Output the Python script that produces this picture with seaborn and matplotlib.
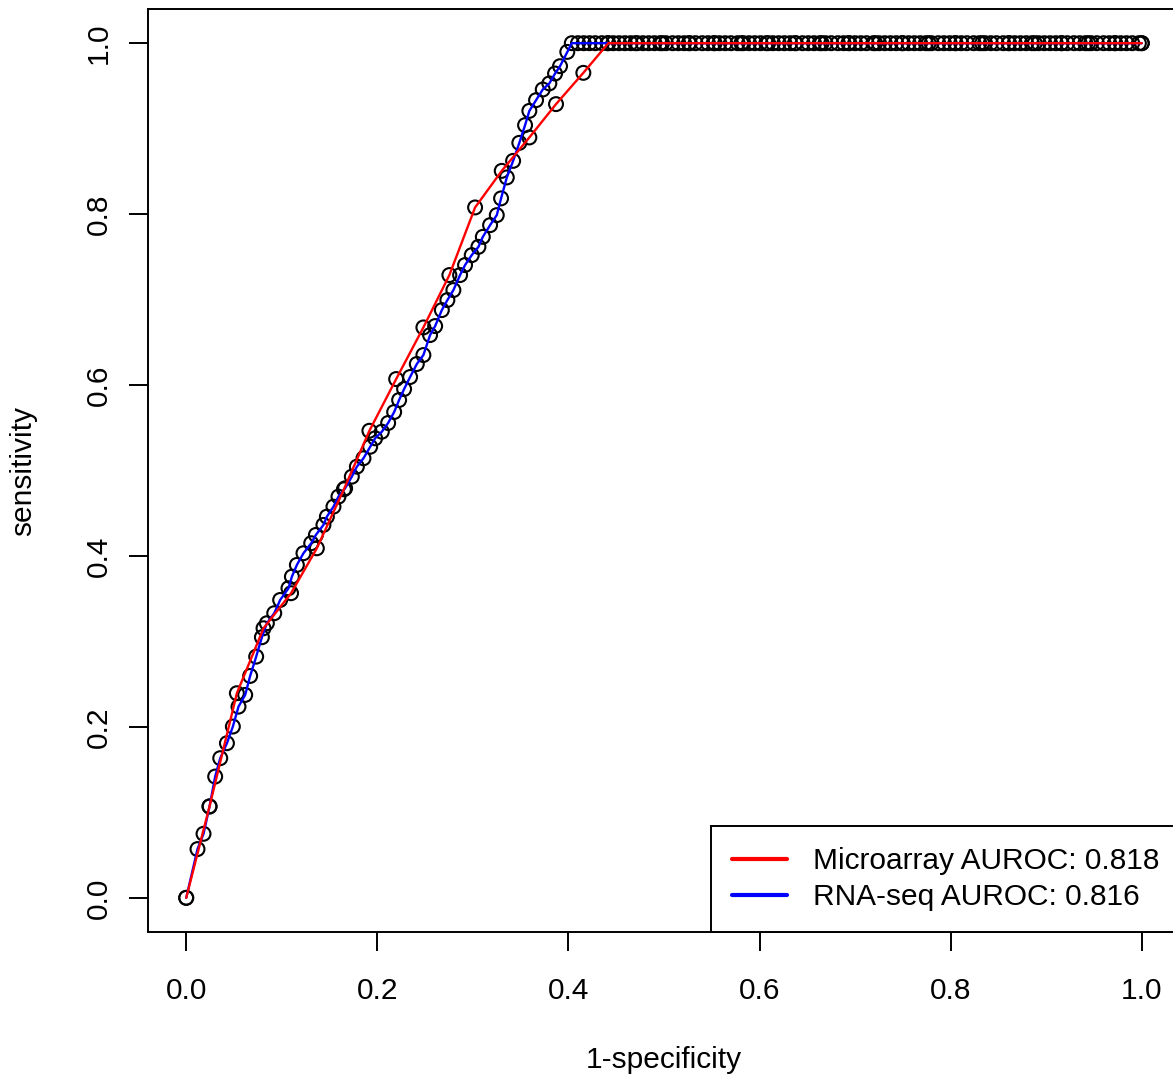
import matplotlib
matplotlib.use("Agg")
import matplotlib.pyplot as plt
import seaborn as sns
import pandas as pd
from matplotlib.lines import Line2D

# ---------------- data ----------------
micro_fpr = [0.0, 0.0244, 0.053, 0.0809, 0.1097, 0.1367, 0.165, 0.1917, 0.2197,
             0.2482, 0.2754, 0.3023, 0.3302, 0.3591, 0.387, 0.4156, 0.4417,
             0.470, 0.498, 0.526, 0.553, 0.581, 0.609, 0.637, 0.665, 0.693,
             0.721, 0.749, 0.777, 0.805, 0.833, 0.861, 0.888, 0.916, 0.944,
             0.972, 1.0]
micro_tpr = [0.0, 0.107, 0.2394, 0.3154, 0.3564, 0.409, 0.478, 0.5465, 0.607,
             0.6674, 0.7287, 0.8078, 0.8506, 0.8897, 0.9287, 0.9653, 1.0,
             1.0, 1.0, 1.0, 1.0, 1.0, 1.0, 1.0, 1.0, 1.0,
             1.0, 1.0, 1.0, 1.0, 1.0, 1.0, 1.0, 1.0, 1.0,
             1.0, 1.0]

rnaseq_fpr = [0.0, 0.0118, 0.0181, 0.0244, 0.0303, 0.0356, 0.0426, 0.0488, 0.0547,
              0.0617, 0.0669, 0.0732, 0.0792, 0.0844, 0.0921, 0.0983, 0.107,
              0.1106, 0.1158, 0.1227, 0.1308, 0.1357, 0.1436, 0.1472, 0.1541,
              0.1593, 0.1663, 0.1733, 0.1786, 0.1855, 0.1925, 0.1977, 0.2047,
              0.2113, 0.2176, 0.2228, 0.228, 0.2343, 0.2413, 0.2482, 0.2552,
              0.2605, 0.2675, 0.2733, 0.2796, 0.2866, 0.2918, 0.2988, 0.3058,
              0.3104, 0.318, 0.325, 0.3295, 0.3355, 0.3421, 0.3486, 0.3546,
              0.3591, 0.3661, 0.3731, 0.38, 0.386, 0.3912, 0.3988, 0.4035,
              0.410, 0.416, 0.422, 0.428, 0.435, 0.441, 0.447, 0.453, 0.459,
              0.465, 0.472, 0.478, 0.484, 0.490, 0.496, 0.502, 0.509, 0.515,
              0.521, 0.527, 0.533, 0.540, 0.546, 0.552, 0.558, 0.564, 0.570,
              0.577, 0.583, 0.589, 0.595, 0.601, 0.607, 0.614, 0.620, 0.626,
              0.632, 0.638, 0.645, 0.651, 0.657, 0.663, 0.669, 0.675, 0.682,
              0.688, 0.694, 0.700, 0.706, 0.712, 0.719, 0.725, 0.731, 0.737,
              0.743, 0.750, 0.756, 0.762, 0.768, 0.774, 0.780, 0.787, 0.793,
              0.799, 0.805, 0.811, 0.817, 0.824, 0.830, 0.836, 0.842, 0.848,
              0.855, 0.861, 0.867, 0.873, 0.879, 0.885, 0.892, 0.898, 0.904,
              0.910, 0.916, 0.922, 0.929, 0.935, 0.941, 0.947, 0.953, 0.960,
              0.966, 0.972, 0.978, 0.984, 0.990, 0.997, 1.000]
rnaseq_tpr_low = [0.0, 0.057, 0.0749, 0.1068, 0.1419, 0.1634, 0.1809, 0.2004, 0.2237,
                  0.2374, 0.2596, 0.2822, 0.3049, 0.3213, 0.333, 0.3485, 0.3622,
                  0.3758, 0.3895, 0.4032, 0.4149, 0.4246, 0.4363, 0.446, 0.4577,
                  0.4694, 0.4792, 0.4928, 0.5045, 0.5143, 0.5278, 0.5377, 0.5454,
                  0.5556, 0.5684, 0.5825, 0.5953, 0.6094, 0.6246, 0.6351, 0.6585,
                  0.669, 0.6877, 0.6994, 0.7111, 0.7287, 0.7404, 0.752, 0.7617,
                  0.7734, 0.7871, 0.7988, 0.8184, 0.8429, 0.8623, 0.8834, 0.9041,
                  0.9208, 0.9333, 0.9458, 0.9529, 0.9645, 0.9731, 0.9898, 1.0]
rnaseq_tpr = rnaseq_tpr_low + [1.0] * (len(rnaseq_fpr) - len(rnaseq_tpr_low))

legend_labels = ["Microarray AUROC: 0.818", "RNA-seq AUROC: 0.816"]
x_ticks = [0.0, 0.2, 0.4, 0.6, 0.8, 1.0]
y_ticks = [0.0, 0.2, 0.4, 0.6, 0.8, 1.0]
x_label = "1-specificity"
y_label = "sensitivity"

micro_df = pd.DataFrame({"fpr": micro_fpr, "tpr": micro_tpr})
rna_df = pd.DataFrame({"fpr": rnaseq_fpr, "tpr": rnaseq_tpr})

# ---------------- style ----------------
sns.set_theme(style="white")
plt.rcParams["font.family"] = ["Liberation Sans", "DejaVu Sans"]
plt.rcParams["text.color"] = "black"
plt.rcParams["axes.labelcolor"] = "black"
plt.rcParams["xtick.color"] = "black"
plt.rcParams["ytick.color"] = "black"
plt.rcParams["legend.labelcolor"] = "black"
FS = 21.5

W, H = 1173, 1079
fig = plt.figure(figsize=(W / 100, H / 100), dpi=100)
fig.patch.set_facecolor("white")
ax = fig.add_axes([148 / W, (H - 932) / H, (1180 - 148) / W, 923 / H])
ax.set_facecolor("white")

# circles
sns.scatterplot(data=rna_df, x="fpr", y="tpr", ax=ax, marker="o", s=100,
                facecolors="none", edgecolor="black", linewidth=1.5,
                zorder=2, legend=False)
sns.scatterplot(data=micro_df, x="fpr", y="tpr", ax=ax, marker="o", s=100,
                facecolors="none", edgecolor="black", linewidth=1.5,
                zorder=2, legend=False)
# lines
sns.lineplot(data=rna_df, x="fpr", y="tpr", ax=ax, sort=False, estimator=None,
             color="#0000FF", linewidth=1.7, zorder=3)
sns.lineplot(data=micro_df, x="fpr", y="tpr", ax=ax, sort=False, estimator=None,
             color="#FF0000", linewidth=1.7, zorder=4)

ax.set_xlim(-0.04, 1.04)
ax.set_ylim(-0.04, 1.04)
ax.set_xticks(x_ticks)
ax.set_yticks(y_ticks)
ax.set_xticklabels([f"{v:.1f}" for v in x_ticks], fontsize=FS, color="black")
ax.set_yticklabels([f"{v:.1f}" for v in y_ticks], fontsize=FS, color="black",
                   rotation=90, va="center")
ax.tick_params(axis="x", direction="out", length=13.5, width=1.4,
               color="black", pad=19, bottom=True)
ax.tick_params(axis="y", direction="out", length=13.5, width=1.4,
               color="black", pad=12, left=True)

for sp in ax.spines.values():
    sp.set_visible(True)
    sp.set_color("black")
    sp.set_linewidth(1.4)

ax.set_xlabel(x_label, fontsize=FS, color="black")
ax.set_ylabel(y_label, fontsize=FS, color="black")
ax.xaxis.set_label_coords(0.5, -0.1235)
ax.yaxis.set_label_coords(-0.1076, 0.5)

handles = [Line2D([0], [0], color="#FF0000", lw=3.0),
           Line2D([0], [0], color="#0000FF", lw=3.0)]
leg = ax.legend(handles, legend_labels, loc="lower right",
                bbox_to_anchor=(1.0, 0.0), borderaxespad=0.0,
                fontsize=FS, frameon=True, fancybox=False,
                edgecolor="black", framealpha=1.0, handlelength=1.85,
                handletextpad=0.87, labelspacing=0.27, borderpad=0.7)
leg.get_frame().set_linewidth(1.4)
for t in leg.get_texts():
    t.set_color("black")
leg.set_zorder(10)

fig.savefig("out.png", dpi=100, facecolor="white")
